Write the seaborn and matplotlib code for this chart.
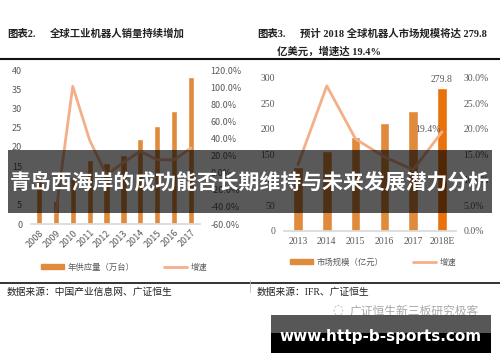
import numpy as np
import pandas as pd
import matplotlib
matplotlib.use("Agg")
import matplotlib.pyplot as plt
from matplotlib.patches import Rectangle, Patch
from matplotlib.lines import Line2D
from matplotlib.ticker import FuncFormatter, MultipleLocator
import seaborn as sns

# ---- data ----
years_l = ["2008", "2009", "2010", "2011", "2012", "2013", "2014", "2015", "2016", "2017"]
supply_l = [11.3, 6.0, 12.1, 16.6, 15.9, 17.8, 22.1, 25.4, 29.4, 38.1]
growth_years_l = ["2009", "2010", "2011", "2012", "2013", "2014", "2015", "2016", "2017"]
growth_l = [-47.0, 101.0, 38.0, -3.0, 12.0, 25.0, 15.0, 15.0, 29.0]

years_r = ["2013", "2014", "2015", "2016", "2017", "2018E"]
market_r = [125.0, 157.0, 183.0, 211.0, 235.0, 279.8]
growth_r = [13.0, 28.4, 18.0, 14.5, 12.0, 19.4]

title_l_num = "图表2."
title_l = "全球工业机器人销量持续增加"
title_r_num = "图表3."
title_r1 = "预计 2018 全球机器人市场规模将达 279.8"
title_r2 = "亿美元，增速达 19.4%"
legend_l = ["年供应量（万台）", "增速"]
legend_r = ["市场规模（亿元）", "增速"]
source_l = "数据来源：中国产业信息网、广证恒生"
source_r = "数据来源：IFR、广证恒生"
banner = "青岛西海岸的成功能否长期维持与未来发展潜力分析"
watermark = "广证恒生新三板研究极客"
site = "www.http-b-sports.com"

sns.set_theme(style="white")
plt.rcParams['font.family'] = ['Noto Sans CJK SC', 'DejaVu Sans']
CJK = ['Noto Sans CJK SC', 'DejaVu Sans']
SERIF = ['Liberation Serif', 'Noto Sans CJK SC']

BAR = "#E08A3C"
BAR_LAST = "#E8720C"
LINE = "#F4AF87"
TICK = "#595959"

W, H = 500, 362
fig = plt.figure(figsize=(5.0, 3.62), dpi=100)
fig.patch.set_facecolor("white")

def fx(px):
    return px / W

def fy(py):
    return 1 - py / H

# ---- left chart ----
axl = fig.add_axes([fx(30.5), fy(224), fx(169), 154 / H])
df_l = pd.DataFrame({"year": years_l, "supply": supply_l})
sns.barplot(data=df_l, x="year", y="supply", color=BAR, width=0.37, ax=axl,
            saturation=1)
axl.set_ylim(0, 40)
axl.yaxis.set_major_locator(MultipleLocator(5))
axl.set_xlim(-0.5, len(years_l) - 0.5)
axl.set_xlabel("")
axl.set_ylabel("")
for s in ["top", "right", "left"]:
    axl.spines[s].set_visible(False)
axl.spines["bottom"].set_color("#D9D9D9")
axl.tick_params(axis="both", length=0, labelsize=6.5, labelcolor=TICK, pad=6)
plt.setp(axl.get_xticklabels(), rotation=45, ha="right", rotation_mode="anchor",
         fontfamily=CJK)
axl.tick_params(axis="x", pad=3)
axl2 = axl.twinx()
xl = [years_l.index(y) for y in growth_years_l]
sns.lineplot(x=xl, y=growth_l, color=LINE, linewidth=2, ax=axl2)
axl2.set_ylim(-60, 120)
axl2.yaxis.set_major_locator(MultipleLocator(20))
axl2.yaxis.set_major_formatter(FuncFormatter(lambda v, p: f"{v:.1f}%"))
for s in ["top", "right", "left", "bottom"]:
    axl2.spines[s].set_visible(False)
axl2.tick_params(axis="y", length=0, labelsize=6.5, labelcolor=TICK, pad=8)
axl2.set_ylabel("")

axl.legend(handles=[Patch(color=BAR), Line2D([], [], color=LINE, lw=2)],
           labels=legend_l, ncol=2, loc="center", frameon=False,
           bbox_to_anchor=(fx(124), fy(267)), bbox_transform=fig.transFigure,
           prop={"family": CJK, "size": 6}, labelcolor=TICK,
           handlelength=2.8, handleheight=0.5, columnspacing=3.5, handletextpad=0.4)

# ---- right chart ----
axr = fig.add_axes([fx(283.6), fy(231), fx(172.8), 153.3 / H])
df_r = pd.DataFrame({"year": years_r, "market": market_r})
pal = [BAR] * (len(years_r) - 1) + [BAR_LAST]
sns.barplot(data=df_r, x="year", y="market", hue="year", palette=pal,
            legend=False, width=0.33, ax=axr, saturation=1)
axr.set_ylim(0, 300)
axr.yaxis.set_major_locator(MultipleLocator(50))
axr.set_xlim(-0.5, len(years_r) - 0.5)
axr.set_xlabel("")
axr.set_ylabel("")
for s in ["top", "right", "left"]:
    axr.spines[s].set_visible(False)
axr.spines["bottom"].set_color("#D9D9D9")
axr.tick_params(axis="both", length=0, labelsize=7, labelcolor=TICK, pad=6)
for t in axr.get_xticklabels() + axr.get_yticklabels():
    t.set_fontfamily(SERIF)
axr.tick_params(axis="x", pad=4)
axr2 = axr.twinx()
xr = list(range(len(years_r)))
sns.lineplot(x=xr, y=growth_r, color=LINE, linewidth=2, ax=axr2)
axr2.set_ylim(0, 30)
axr2.yaxis.set_major_locator(MultipleLocator(5))
axr2.yaxis.set_major_formatter(FuncFormatter(lambda v, p: f"{v:.1f}%"))
for s in ["top", "right", "left", "bottom"]:
    axr2.spines[s].set_visible(False)
axr2.tick_params(axis="y", length=0, labelsize=7, labelcolor=TICK, pad=5)
for t in axr2.get_yticklabels():
    t.set_fontfamily(SERIF)
axr2.set_ylabel("")

axr.annotate(f"{market_r[-1]:.1f}", xy=(xr[-1], market_r[-1]), xytext=(0, 4),
             textcoords="offset pixels", ha="center", va="bottom",
             fontsize=7, color=TICK, fontfamily=SERIF)
axr2.annotate(f"{growth_r[-1]:.1f}%", xy=(xr[-1], growth_r[-1]), xytext=(-14, 2),
              textcoords="offset pixels", ha="center", va="center",
              fontsize=7, color=TICK, fontfamily=SERIF)

axr.legend(handles=[Patch(color=BAR), Line2D([], [], color=LINE, lw=2)],
           labels=legend_r, ncol=2, loc="center", frameon=False,
           bbox_to_anchor=(fx(373), fy(262)), bbox_transform=fig.transFigure,
           prop={"family": CJK, "size": 6}, labelcolor=TICK,
           handlelength=2.8, handleheight=0.5, columnspacing=3.5, handletextpad=0.4)

# ---- titles, rules, sources ----
tk = dict(fontsize=7.5, fontweight="bold", color="#222222", va="center",
          fontfamily=SERIF)
fig.text(fx(7), fy(34), title_l_num, **tk)
fig.text(fx(50), fy(34), title_l, **tk)
fig.text(fx(257), fy(34), title_r_num, **tk)
fig.text(fx(300), fy(34), title_r1, **tk)
fig.text(fx(277), fy(52), title_r2, **tk)

fig.add_artist(Line2D([0, 1], [fy(58.5), fy(58.5)], color="#111111", lw=1.5,
                      transform=fig.transFigure))
fig.add_artist(Line2D([0, 1], [fy(283), fy(283)], color="#111111", lw=1.2,
                      transform=fig.transFigure))
fig.add_artist(Line2D([0.5, 0.5], [fy(280), fy(292)], color="#BBBBBB", lw=0.6,
                      transform=fig.transFigure))
sk = dict(fontsize=7, color="#222222", va="center", fontfamily=SERIF)
fig.text(fx(7), fy(292), source_l, **sk)
fig.text(fx(257), fy(292), source_r, **sk)

fig.text(fx(350), fy(311), watermark, fontsize=8.5, color="#A8A8A8",
         va="center", fontfamily=CJK)
fig.text(fx(338), fy(311), "◌", fontsize=9, color="#B0B0B0", va="center",
         ha="center", fontfamily=['DejaVu Sans'])

# ---- overlays ----
fig.add_artist(Rectangle((fx(8), fy(213)), fx(484), 63 / H,
                         transform=fig.transFigure, facecolor="black",
                         alpha=0.65, edgecolor="none", zorder=20))
fig.text(0.5, fy(183), banner, fontsize=15, fontweight="bold", color="white",
         ha="center", va="center", fontfamily=CJK, zorder=21)

fig.add_artist(Rectangle((fx(271), fy(333)), fx(220), 18 / H,
                         transform=fig.transFigure, facecolor="#3a3a3a",
                         alpha=0.85, edgecolor="none", zorder=20))
fig.add_artist(Rectangle((fx(271), fy(353)), fx(220), 20 / H,
                         transform=fig.transFigure, facecolor="black",
                         edgecolor="none", zorder=20))
fig.text(fx(381), fy(336), site, fontsize=11, fontweight="bold", color="white",
         ha="center", va="center", fontfamily=['DejaVu Sans'], zorder=21)

fig.savefig("out.png", dpi=100)
